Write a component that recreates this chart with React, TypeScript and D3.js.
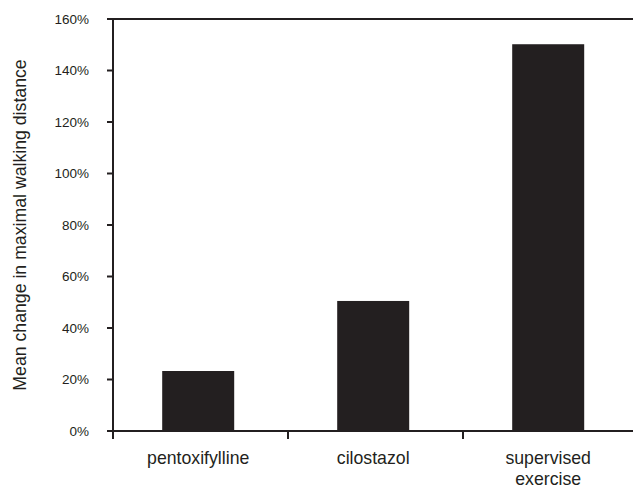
import React from "react";
import * as d3 from "d3";

const categories = ["pentoxifylline", "cilostazol", "supervised exercise"];
const values = [23.3, 50.5, 150.2];
const yTicks = [0, 20, 40, 60, 80, 100, 120, 140, 160];
const yTitle = "Mean change in maximal walking distance";

const W = 633;
const H = 487;
const INK = "#231f20";

export default function App() {
  const margin = { left: 113, top: 19, right: -5, bottom: 56 };
  const x = d3
    .scaleBand<string>()
    .domain(categories)
    .range([margin.left, W - margin.right])
    .padding(0);
  const y = d3.scaleLinear().domain([0, 160]).range([H - margin.bottom, margin.top]);
  const barW = 72;
  const shift = -2.3;
  const font = "Liberation Sans, Arial, sans-serif";

  return (
    <svg
      width={W}
      height={H}
      style={{ position: "absolute", left: 0, top: 0, background: "#fff" }}
      fontFamily={font}
    >
      {categories.map((c, i) => (
        <rect
          key={c}
          x={(x(c) as number) + x.bandwidth() / 2 - barW / 2 + shift}
          y={y(values[i])}
          width={barW}
          height={y(0) - y(values[i])}
          fill={INK}
        />
      ))}
      {/* top border */}
      <line x1={x.range()[0]} x2={x.range()[1]} y1={y(160)} y2={y(160)} stroke={INK} strokeWidth={2} />
      {/* y axis */}
      <line x1={margin.left} x2={margin.left} y1={y(160) - 1} y2={y(0) + 8} stroke={INK} strokeWidth={2} />
      {yTicks.map((t) => (
        <g key={t}>
          <line x1={margin.left - 6} x2={margin.left} y1={y(t)} y2={y(t)} stroke={INK} strokeWidth={2} />
          <text x={89} y={y(t)} dy="0.36em" textAnchor="end" fontSize={13.5} fill={INK}>
            {t}%
          </text>
        </g>
      ))}
      {/* x axis */}
      <line x1={margin.left - 6} x2={x.range()[1]} y1={y(0)} y2={y(0)} stroke={INK} strokeWidth={2} />
      {categories.map((c, i) => (
        <g key={c}>
          {i > 0 && (
            <line x1={x(c)} x2={x(c)} y1={y(0)} y2={y(0) + 8} stroke={INK} strokeWidth={2} />
          )}
          <text
            x={(x(c) as number) + x.bandwidth() / 2 + shift}
            y={464}
            textAnchor="middle"
            fontSize={17.7}
            fill={INK}
          >
            {c.split(" ").map((w, j) => (
              <tspan key={j} x={(x(c) as number) + x.bandwidth() / 2 + shift} dy={j === 0 ? 0 : 20.5}>
                {w}
              </tspan>
            ))}
          </text>
        </g>
      ))}
      <text
        transform={`translate(26, ${(y(0) + y(160)) / 2}) rotate(-90)`}
        textAnchor="middle"
        fontSize={17.7}
        fill={INK}
      >
        {yTitle}
      </text>
    </svg>
  );
}
